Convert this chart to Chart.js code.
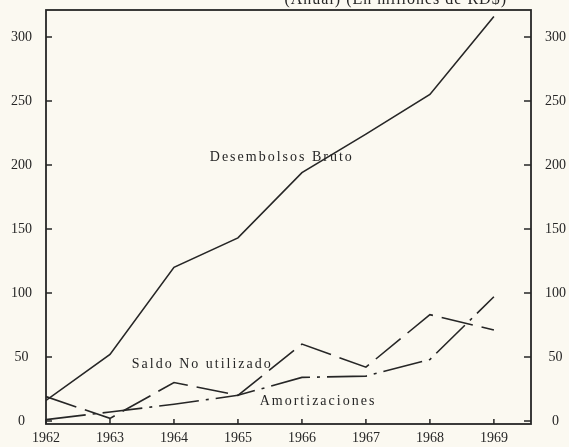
<!DOCTYPE html>
<html><head><meta charset="utf-8">
<script src="https://cdn.jsdelivr.net/npm/chart.js@4"></script>
<style>
html,body{margin:0;padding:0;background:#fbf9f1;}
#wrap{width:569px;height:447px;position:relative;overflow:hidden;}
canvas{display:block;}
</style>
</head><body><div id="wrap"><canvas id="c" width="569" height="447"></canvas></div>
<script>
const years = [1962, 1963, 1964, 1965, 1966, 1967, 1968, 1969];
const yTicks = [0, 50, 100, 150, 200, 250, 300];
const desembolsosBruto = [16, 52, 120, 143, 194, 224, 255, 316];
const saldoNoUtilizado = [19, 2, 30, 20, 60, 42, 83, 71];
const amortizaciones = [1, 7, 13, 20, 34, 35, 48, 97];
const seriesNames = ['Desembolsos Bruto', 'Saldo No utilizado', 'Amortizaciones'];
const titleText = '(Anual) (En millones de RD$)';

const INK = '#262626';
const FONT = 'Liberation Serif';

function pts(vals) { return years.map((y, i) => ({ x: y, y: vals[i] })); }

const boxPlugin = {
  id: 'boxTicks',
  afterDraw(chart) {
    const { ctx, chartArea: a, scales } = chart;
    ctx.save();
    ctx.strokeStyle = INK;
    ctx.lineWidth = 1.8;
    ctx.strokeRect(a.left, a.top, a.right - a.left, a.bottom - a.top);
    ctx.lineWidth = 1.5;
    ctx.beginPath();
    yTicks.forEach(v => {
      const py = scales.y.getPixelForValue(v);
      ctx.moveTo(a.left, py); ctx.lineTo(a.left + 6, py);
      const py2 = scales.y2.getPixelForValue(v);
      ctx.moveTo(a.right - 7, py2); ctx.lineTo(a.right, py2);
    });
    years.forEach(v => {
      const px = scales.x.getPixelForValue(v);
      ctx.moveTo(px, a.bottom); ctx.lineTo(px, a.bottom - 5);
    });
    ctx.stroke();
    // series annotations (placed in data units)
    ctx.fillStyle = INK;
    ctx.font = '14px "' + FONT + '"';
    ctx.letterSpacing = '2px';
    ctx.textBaseline = 'middle';
    ctx.textAlign = 'left';
    const anchors = [[1964.56, 206], [1963.34, 44.5], [1965.34, 15]];
    seriesNames.forEach((n, i) => {
      ctx.fillText(n, scales.x.getPixelForValue(anchors[i][0]), scales.y.getPixelForValue(anchors[i][1]));
    });
    // partially cropped title at top
    ctx.letterSpacing = '1px';
    ctx.font = '16px "' + FONT + '"';
    ctx.textAlign = 'right';
    ctx.textBaseline = 'alphabetic';
    ctx.fillText(titleText, 507, 4);
    ctx.restore();
  }
};

function yFit(w) {
  return s => { s.width = w; s.paddingTop = 0; s.paddingBottom = 0; };
}

const yCommon = {
  type: 'linear', min: -2.4, max: 321,
  afterBuildTicks: s => { s.ticks = yTicks.map(v => ({ value: v })); },
  grid: { display: false, drawTicks: false },
  border: { display: false },
  ticks: { color: INK, font: { family: FONT, size: 14 }, padding: 14, crossAlign: 'center' }
};

new Chart(document.getElementById('c'), {
  type: 'line',
  data: {
    datasets: [
      { label: seriesNames[0], data: pts(desembolsosBruto), borderColor: INK, borderWidth: 1.6, pointRadius: 0, tension: 0, fill: false },
      { label: seriesNames[1], data: pts(saldoNoUtilizado), borderColor: INK, borderWidth: 1.6, borderDash: [32, 9], pointRadius: 0, tension: 0, fill: false },
      { label: seriesNames[2], data: pts(amortizaciones), borderColor: INK, borderWidth: 1.6, borderDash: [40, 7, 3, 7], pointRadius: 0, tension: 0, fill: false }
    ]
  },
  options: {
    responsive: false, animation: false, devicePixelRatio: 1,
    layout: { padding: { top: 10, left: 0, right: 0, bottom: 0 } },
    plugins: { legend: { display: false }, tooltip: { enabled: false }, title: { display: false } },
    scales: {
      x: {
        type: 'linear', min: 1962, max: 1969.58,
        afterBuildTicks: s => { s.ticks = years.map(v => ({ value: v })); },
        afterFit: s => { s.height = 23; s.paddingLeft = 0; s.paddingRight = 0; },
        grid: { display: false, drawTicks: false },
        border: { display: false },
        ticks: { color: INK, font: { family: FONT, size: 14 }, padding: 6, maxRotation: 0, autoSkip: false, callback: v => String(v) }
      },
      y: Object.assign({}, yCommon, { position: 'left', afterFit: yFit(46) }),
      y2: Object.assign({}, yCommon, { position: 'right', afterFit: yFit(38) })
    }
  },
  plugins: [boxPlugin]
});
</script>
</body></html>
